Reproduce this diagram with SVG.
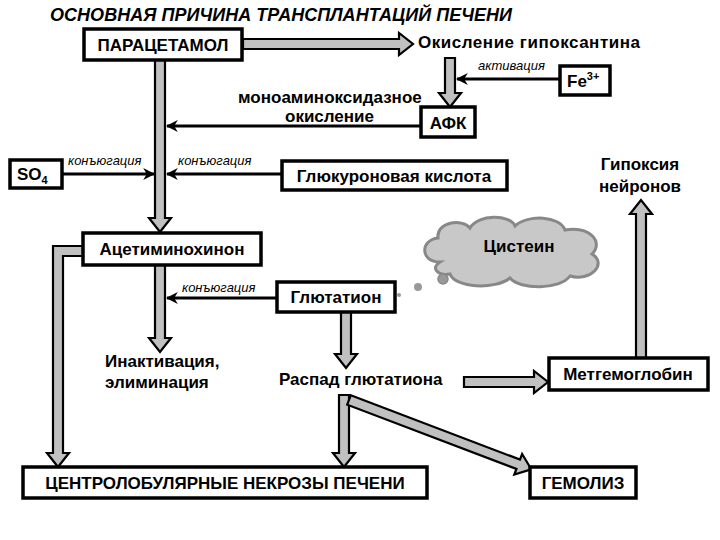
<svg xmlns="http://www.w3.org/2000/svg" width="720" height="540" viewBox="0 0 720 540">
<defs>
<style>
.box{fill:#fff;stroke:#000;stroke-width:3.5}
.fat{fill:#c0c0c0;stroke:#000;stroke-width:2.2;stroke-linejoin:miter}
.thin{stroke:#000;stroke-width:3;fill:none;marker-end:url(#ah)}
text{font-family:"Liberation Sans",Arial,sans-serif;font-weight:bold;fill:#000}
.t{font-size:17px}
.it{font-size:13px;font-style:italic;font-weight:normal}
</style>
<marker id="ah" viewBox="0 0 10 10" refX="9" refY="5" markerWidth="4" markerHeight="4" orient="auto" markerUnits="strokeWidth">
<path d="M0,0 L10,5 L0,10 L3,5 Z" fill="#000"/>
</marker>
</defs>
<rect width="720" height="540" fill="#fff"/>
<text x="50" y="21" font-size="18" font-style="italic" textLength="462">ОСНОВНАЯ ПРИЧИНА ТРАНСПЛАНТАЦИЙ ПЕЧЕНИ</text>
<g id="connectors">
<polygon class="fat" points="155,60 165,60 165,218 171,218 160,232 149,218 155,218"/>
<polygon class="fat" points="155,265 165,265 165,338 171,338 160,352 149,338 155,338"/>
<polygon class="fat" points="243,39 399,39 399,33 413,44 399,55 399,49 243,49"/>
<polygon class="fat" points="445,58 455,58 455,93 461,93 450,107 439,93 445,93"/>
<polygon class="fat" points="83,246 53,246 53,453 47,453 58,467 69,453 63,453 63,256 83,256"/>
<polygon class="fat" points="341,312 351,312 351,354 357,354 346,368 335,354 341,354"/>
<polygon class="fat" points="464,377 534,377 534,371 548,382 534,393 534,387 464,387"/>
<polygon class="fat" points="636,358 646,358 646,214 652,214 641,200 630,214 636,214"/>
<polygon class="fat" points="339,395 349,395 349,453 355,453 344,467 333,453 339,453"/>
<polygon class="fat" transform="translate(349,400) rotate(20.8)" points="0,-5 181,-5 181,-11 195,0 181,11 181,5 0,5"/>
<line class="thin" x1="560" y1="79" x2="457" y2="79"/>
<line class="thin" x1="421" y1="126" x2="167" y2="126"/>
<line class="thin" x1="62" y1="174" x2="154" y2="174"/>
<line class="thin" x1="282" y1="174" x2="167" y2="174"/>
<line class="thin" x1="277" y1="298" x2="167" y2="298"/>
</g>
<text class="it" x="478" y="70">активация</text>
<text class="t" x="238" y="103" font-size="16">моноаминоксидазное</text>
<text class="t" x="285" y="122" font-size="16">окисление</text>
<text class="it" x="68" y="165">конъюгация</text>
<text class="it" x="178" y="165">конъюгация</text>
<text class="it" x="182" y="292">конъюгация</text>
<g id="paracetamol"><rect class="box" x="84" y="29" width="158" height="31"/><text class="t" x="163" y="51" text-anchor="middle">ПАРАЦЕТАМОЛ</text></g>
<g id="oxid"><text class="t" x="418" y="48" textLength="222">Окисление гипоксантина</text></g>
<g id="fe"><rect class="box" x="560" y="66" width="50" height="29"/><text class="t" x="567" y="87">Fe<tspan font-size="11" dy="-7">3+</tspan></text></g>
<g id="afk"><rect class="box" x="421" y="107" width="54" height="30"/><text class="t" x="448" y="129" text-anchor="middle">АФК</text></g>
<g id="so4"><rect class="box" x="10" y="160" width="52" height="28"/><text class="t" x="17" y="180">SO<tspan font-size="11" dy="4">4</tspan></text></g>
<g id="gluc"><rect class="box" x="282" y="161" width="225" height="29"/><text class="t" x="394" y="182" text-anchor="middle">Глюкуроновая кислота</text></g>
<g id="hypoxia"><text class="t" x="640" y="170" text-anchor="middle">Гипоксия</text><text class="t" x="640" y="192" text-anchor="middle">нейронов</text></g>
<g id="acet"><rect class="box" x="83" y="233" width="178" height="32"/><text class="t" x="172" y="255" text-anchor="middle">Ацетиминохинон</text></g>
<g id="cystein">
<path d="M440,262 C420,262 420,240 438,238 C436,222 462,218 470,228 C478,214 510,214 515,226 C528,214 560,216 565,230 C590,226 604,242 592,254 C608,264 590,282 570,276 C560,290 520,290 510,278 C495,290 455,288 450,274 C438,276 430,268 440,262 Z" fill="#c8c8c8" stroke="#888" stroke-width="3"/>
<text class="t" x="519" y="252" text-anchor="middle">Цистеин</text>
<circle cx="443" cy="279" r="5" fill="#999" stroke="#888" stroke-width="1.5"/>
<circle cx="418" cy="287" r="4" fill="#999"/>
<circle cx="399" cy="295" r="2" fill="#999"/>
</g>
<g id="glut"><rect class="box" x="277" y="282" width="118" height="30"/><text class="t" x="336" y="303" text-anchor="middle">Глютатион</text></g>
<g id="inact"><text class="t" x="105" y="367" font-weight="normal">Инактивация,</text><text class="t" x="105" y="388" font-weight="normal">элиминация</text></g>
<g id="raspad"><text class="t" x="279" y="385" font-weight="normal">Распад глютатиона</text></g>
<g id="met"><rect class="box" x="549" y="358" width="159" height="32"/><text class="t" x="628" y="380" text-anchor="middle">Метгемоглобин</text></g>
<g id="necr"><rect class="box" x="23" y="467" width="404" height="31"/><text class="t" x="225" y="489" text-anchor="middle">ЦЕНТРОЛОБУЛЯРНЫЕ НЕКРОЗЫ ПЕЧЕНИ</text></g>
<g id="hemol"><rect class="box" x="530" y="467" width="106" height="31"/><text class="t" x="583" y="489" text-anchor="middle">ГЕМОЛИЗ</text></g>
</svg>
